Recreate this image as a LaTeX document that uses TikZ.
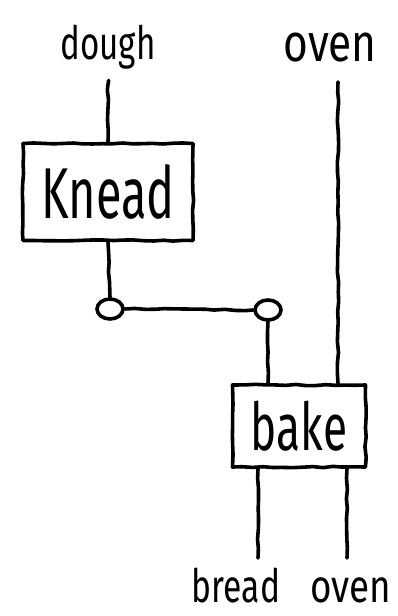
\documentclass[tikz,border=0pt]{standalone}
\usepackage{fontspec}
\setmainfont{Fira Sans}
\usepackage{graphicx}
\usetikzlibrary{calc,shapes.geometric,decorations.pathmorphing}

% narrow hand lettering
\newcommand{\narrow}[2][0.8]{\scalebox{#1}[1]{#2}}

\tikzset{
  wobbly/.style={decorate, decoration={random steps, segment length=10pt, amplitude=0.7pt},
    line join=round, line cap=round},
  wire/.style={wobbly, line width=3.6pt},
  procbox/.style={draw, wobbly, line width=3.6pt, inner sep=0pt},
  port/.style={draw, ellipse, line width=3.6pt, minimum width=26pt, minimum height=20pt, inner sep=0pt},
  wirelabel/.style={inner sep=0pt, anchor=base, font=\fontsize{46}{46}\selectfont}
}

\begin{document}
\begin{tikzpicture}[x=1pt,y=1pt]
    \useasboundingbox (0,0) rectangle (398,616);
    \pgfmathsetseed{11}
    % labels on the open ends
    \node[wirelabel] (dough) at (108,556) {\narrow[0.72]{dough}};
    \node[wirelabel, font=\fontsize{53}{53}\selectfont] (ovenin) at (330,554) {\narrow{oven}};
    \node[wirelabel] (bread) at (236,13) {\narrow[0.73]{bread}};
    \node[wirelabel] (ovenout) at (351,13) {\narrow{oven}};
    % the two steps
    \node[procbox, minimum width=170pt, minimum height=97pt,
          font=\fontsize{72}{72}\selectfont] (knead) at (108,424) {\narrow[0.65]{Knead}};
    \node[procbox, minimum width=133pt, minimum height=82pt,
          font=\fontsize{66}{66}\selectfont] (bake) at (299,190) {\narrow[0.67]{bake}};
    % ports
    \node[port] (p1) at (110,307) {};
    \node[port] (p2) at (268,306) {};
    % free ends of the outgoing wires
    \coordinate (breadend) at (258,58);
    \coordinate (ovenend) at (347,58);
    \coordinate (ovenstart) at (338,534);
    % wires
    \draw[wire, shorten <=12pt] (dough.south) -- (knead.north);
    \draw[wire] (knead.south) -- (p1.north);
    \draw[wire] (p1.east) -- (p2.west);
    \draw[wire] (p2.south) -- (p2.south |- bake.north);
    \draw[wire] (ovenstart) -- (ovenstart |- bake.north);
    \draw[wire] (breadend |- bake.south) -- (breadend);
    \draw[wire] (ovenend |- bake.south) -- (ovenend);
\end{tikzpicture}
\end{document}
